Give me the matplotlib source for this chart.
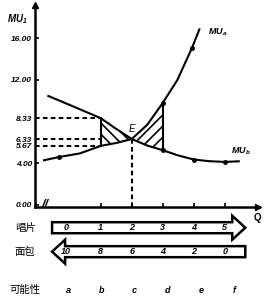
import numpy as np
import matplotlib
matplotlib.use("Agg")
import matplotlib.pyplot as plt
from matplotlib.patches import FancyArrow

plt.rcParams['font.family'] = ['Liberation Sans', 'Noto Sans CJK SC', 'DejaVu Sans']
plt.rcParams['mathtext.fontset'] = 'custom'
plt.rcParams['mathtext.rm'] = 'Liberation Sans:bold:italic'
plt.rcParams['mathtext.it'] = 'Liberation Sans:bold:italic'
plt.rcParams['hatch.linewidth'] = 1.2

# MU of records (rising) and MU of bread (falling)
q_a = [-0.83, -0.34, 0.33, 1.0, 1.5, 2.0, 2.5, 3.0, 3.47, 3.94, 4.18]
mu_a = [4.29, 4.6, 4.95, 5.67, 5.95, 6.33, 7.7, 9.8, 12.0, 15.07, 16.86]
q_b = [-0.69, 0.0, 1.0, 1.5, 2.0, 2.5, 3.0, 3.5, 4.0, 4.5, 5.0, 5.45]
mu_b = [10.46, 9.6, 8.33, 7.3, 6.33, 5.7, 5.25, 4.75, 4.36, 4.2, 4.13, 4.19]

y_ticks = [0, 4, 5.67, 6.33, 8.33, 12, 16]
y_labels = ['0.00', '4.00', '5.67', '6.33', '8.33', '12.00', '16.00']
q_ticks = [1, 2, 3, 4, 5]

records = ['0', '1', '2', '3', '4', '5']
bread = ['10', '8', '6', '4', '2', '0']
options = ['a', 'b', 'c', 'd', 'e', 'f']

fig = plt.figure(figsize=(2.68, 3.0), dpi=100)
ax = fig.add_axes([35 / 268, 93 / 300, 223 / 268, 202 / 300])
ax.set_xlim(-1.12, 6.07)
ax.set_ylim(-0.2, 19.2)

for s in ['top', 'right']:
    ax.spines[s].set_visible(False)
for s in ['left', 'bottom']:
    ax.spines[s].set_linewidth(1.8)
ax.plot(0, 1, '^k', ms=5, transform=ax.transAxes, clip_on=False)
ax.plot(1, 0, '>k', ms=5, transform=ax.transAxes, clip_on=False)

ax.set_yticks(y_ticks)
ax.set_yticklabels(y_labels, fontsize=6, fontweight='bold', fontstyle='italic')
ax.set_xticks(q_ticks)
ax.set_xticklabels([])
ax.tick_params(direction='in', length=3, width=1.2, pad=2)

# curves
ax.plot(q_a, mu_a, color='black', lw=1.5)
ax.plot(q_b, mu_b, color='black', lw=1.5)
ax.plot([q_a[1], q_a[7], q_a[9]], [mu_a[1], mu_a[7], mu_a[9]], 'o', color='black', ms=2.5)
ax.plot([q_b[6], q_b[8], q_b[10]], [mu_b[6], mu_b[8], mu_b[10]], 'o', color='black', ms=2.5)

# hatched areas
qa = np.array(q_a)
qb = np.array(q_b)
ma = np.array(mu_a)
mb = np.array(mu_b)
left = [1.0, 1.5, 2.0]
right = [2.0, 2.5, 3.0]
ax.fill_between(left, mb[np.isin(qb, left)], ma[np.isin(qa, left)],
                facecolor='none', edgecolor='black', hatch='\\\\\\', linewidth=0)
ax.fill_between(right, ma[np.isin(qa, right)], mb[np.isin(qb, right)],
                facecolor='none', edgecolor='black', hatch='///', linewidth=0)
ax.plot([1, 1], [mu_a[3], mu_b[2]], color='black', lw=1.5)
ax.plot([3, 3], [mu_b[6], mu_a[7]], color='black', lw=1.5)

# guide lines
for v in [8.33, 6.33, 5.67]:
    ax.plot([-1.12, 1], [v, v], color='black', lw=1.5, ls=(0, (2.2, 1.6)))
ax.plot([2, 2], [-0.2, 6.33], color='black', lw=1.5, ls=(0, (2.2, 1.6)))

# labels
ax.text(-1.7, 17.8, 'MU$_1$', fontsize=7, fontweight='bold', fontstyle='italic',
        ha='center', va='center', clip_on=False)
ax.text(4.45, 16.6, 'MU$_{a}$', fontsize=6.5, fontweight='bold', fontstyle='italic',
        ha='left', va='center')
ax.text(5.2, 5.15, 'MU$_{b}$', fontsize=6.5, fontweight='bold', fontstyle='italic',
        ha='left', va='center')
ax.text(2.0, 7.25, 'E', fontsize=7, fontstyle='italic', ha='center', va='center')
ax.text(6.04, -1.25, 'Q', fontsize=7, fontweight='bold', ha='center', va='center',
        clip_on=False)
ax.text(-0.8, 0.0, '//', fontsize=9, fontweight='bold', fontstyle='italic',
        ha='center', va='center', clip_on=False)

# exchange arrows
ax.add_patch(FancyArrow(-0.57, -2.19, 5.81, 0, width=1.06, head_width=2.3,
                        head_length=0.42, length_includes_head=False,
                        facecolor='white', edgecolor='black', lw=1.8, clip_on=False))
ax.add_patch(FancyArrow(5.66, -4.49, -5.81, 0, width=1.06, head_width=2.3,
                        head_length=0.42, length_includes_head=False,
                        facecolor='white', edgecolor='black', lw=1.8, clip_on=False))

row_y = [-2.19, -4.49, -8.2]
for i in range(6):
    x = i if i > 0 else -0.12
    ax.text(x, row_y[0], records[i], fontsize=6.5, fontweight='bold', fontstyle='italic',
            ha='center', va='center', clip_on=False)
    ax.text(x, row_y[1], bread[i], fontsize=6.5, fontweight='bold', fontstyle='italic',
            ha='center', va='center', clip_on=False)
    ax.text(i * 1.07 - 0.05, row_y[2], options[i], fontsize=6.5, fontweight='bold',
            fontstyle='italic', ha='center', va='center', clip_on=False)

ax.text(-1.44, row_y[0], '唱片', fontsize=7.5, ha='center', va='center',
        family=['Noto Sans CJK SC'], clip_on=False)
ax.text(-1.44, row_y[1], '面包', fontsize=7.5, ha='center', va='center',
        family=['Noto Sans CJK SC'], clip_on=False)
ax.text(-1.44, row_y[2], '可能性', fontsize=7.5, ha='center', va='center',
        family=['Noto Sans CJK SC'], clip_on=False)

fig.savefig('out.png', dpi=100)
